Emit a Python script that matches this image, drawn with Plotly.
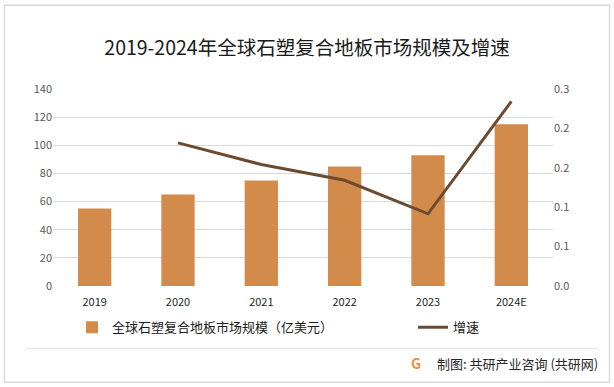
import plotly.graph_objects as go

years = ["2019", "2020", "2021", "2022", "2023", "2024E"]
market_size = [55, 65, 75, 85, 93, 115]
growth_years = ["2020", "2021", "2022", "2023", "2024E"]
growth_rate = [0.218, 0.185, 0.161, 0.110, 0.281]

title_text = "2019-2024年全球石塑复合地板市场规模及增速"
bar_name = "全球石塑复合地板市场规模（亿美元）"
line_name = "增速"
footer_text = "制图: 共研产业咨询 (共研网)"

W, H = 614, 387
L, R, T, B = 53, 61, 89, 100.5
PW, PH = W - L - R, H - T - B

def px(x):
    return (x - L) / PW

def py(y):
    return (H - B - y) / PH

FONT = "Noto Sans CJK SC, Microsoft YaHei, sans-serif"

fig = go.Figure()
fig.add_trace(go.Bar(
    x=years, y=market_size, name=bar_name,
    marker=dict(color="#D38B4C", line=dict(width=0)),
    width=0.4, legend="legend",
))
fig.add_trace(go.Scatter(
    x=growth_years, y=growth_rate, name=line_name, yaxis="y2",
    mode="lines", line=dict(color="#6B4A30", width=3), legend="legend2",
))

fig.update_layout(
    width=W, height=H,
    margin=dict(l=L, r=R, t=T, b=B, autoexpand=False),
    paper_bgcolor="white", plot_bgcolor="white",
    font=dict(family=FONT, color="#595959", size=11),
    title=dict(text=title_text, x=0.5, xanchor="center", y=1 - 48 / H, yanchor="middle",
               font=dict(family=FONT, size=19.5, color="#1a1a1a")),
    xaxis=dict(type="category", showgrid=False, zeroline=False, showline=False,
               ticks="", ticklabelstandoff=8, tickfont=dict(size=11, color="#262626")),
    yaxis=dict(range=[0, 140], dtick=20, showgrid=True, gridcolor="#D9D9D9", gridwidth=1,
               zeroline=False, showline=False, ticks="", tickfont=dict(size=11, color="#595959")),
    yaxis2=dict(range=[0, 0.3], tickvals=[0, 0.06, 0.12, 0.18, 0.24, 0.30], tickformat=".1f",
                tickprefix="\u00a0\u00a0\u00a0",
                overlaying="y", side="right", showgrid=False, zeroline=False, showline=False,
                ticks="", tickfont=dict(size=11, color="#595959")),
    showlegend=True,
    legend=dict(orientation="h", x=px(72), xanchor="left", y=py(328), yanchor="middle",
                font=dict(size=13, color="#1a1a1a"), bgcolor="rgba(0,0,0,0)"),
    legend2=dict(orientation="h", x=px(413), xanchor="left", y=py(328), yanchor="middle",
                 font=dict(size=13, color="#1a1a1a"), bgcolor="rgba(0,0,0,0)"),
    bargap=0.6,
)

# outer border and separator
fig.add_shape(type="rect", xref="paper", yref="paper",
              x0=px(4.5), x1=px(609.5), y0=py(383), y1=py(5),
              line=dict(color="#D9D9D9", width=1.5), fillcolor="rgba(0,0,0,0)", layer="below")
fig.add_shape(type="line", xref="paper", yref="paper",
              x0=px(26), x1=px(598), y0=py(349), y1=py(349),
              line=dict(color="#E3E3E3", width=1))

fig.add_annotation(text=footer_text, xref="paper", yref="paper", x=px(600), y=py(364),
                   xanchor="right", yanchor="middle", showarrow=False,
                   font=dict(family=FONT, size=13, color="#262626"))
fig.add_annotation(text="<b>G</b>", xref="paper", yref="paper", x=px(416), y=py(364),
                   xanchor="center", yanchor="middle", showarrow=False,
                   font=dict(family=FONT, size=14, color="#F0913A"))

fig.write_html("out.html", config={"displayModeBar": False},
               post_script="document.body.style.margin='0';document.body.style.overflow='hidden';")
